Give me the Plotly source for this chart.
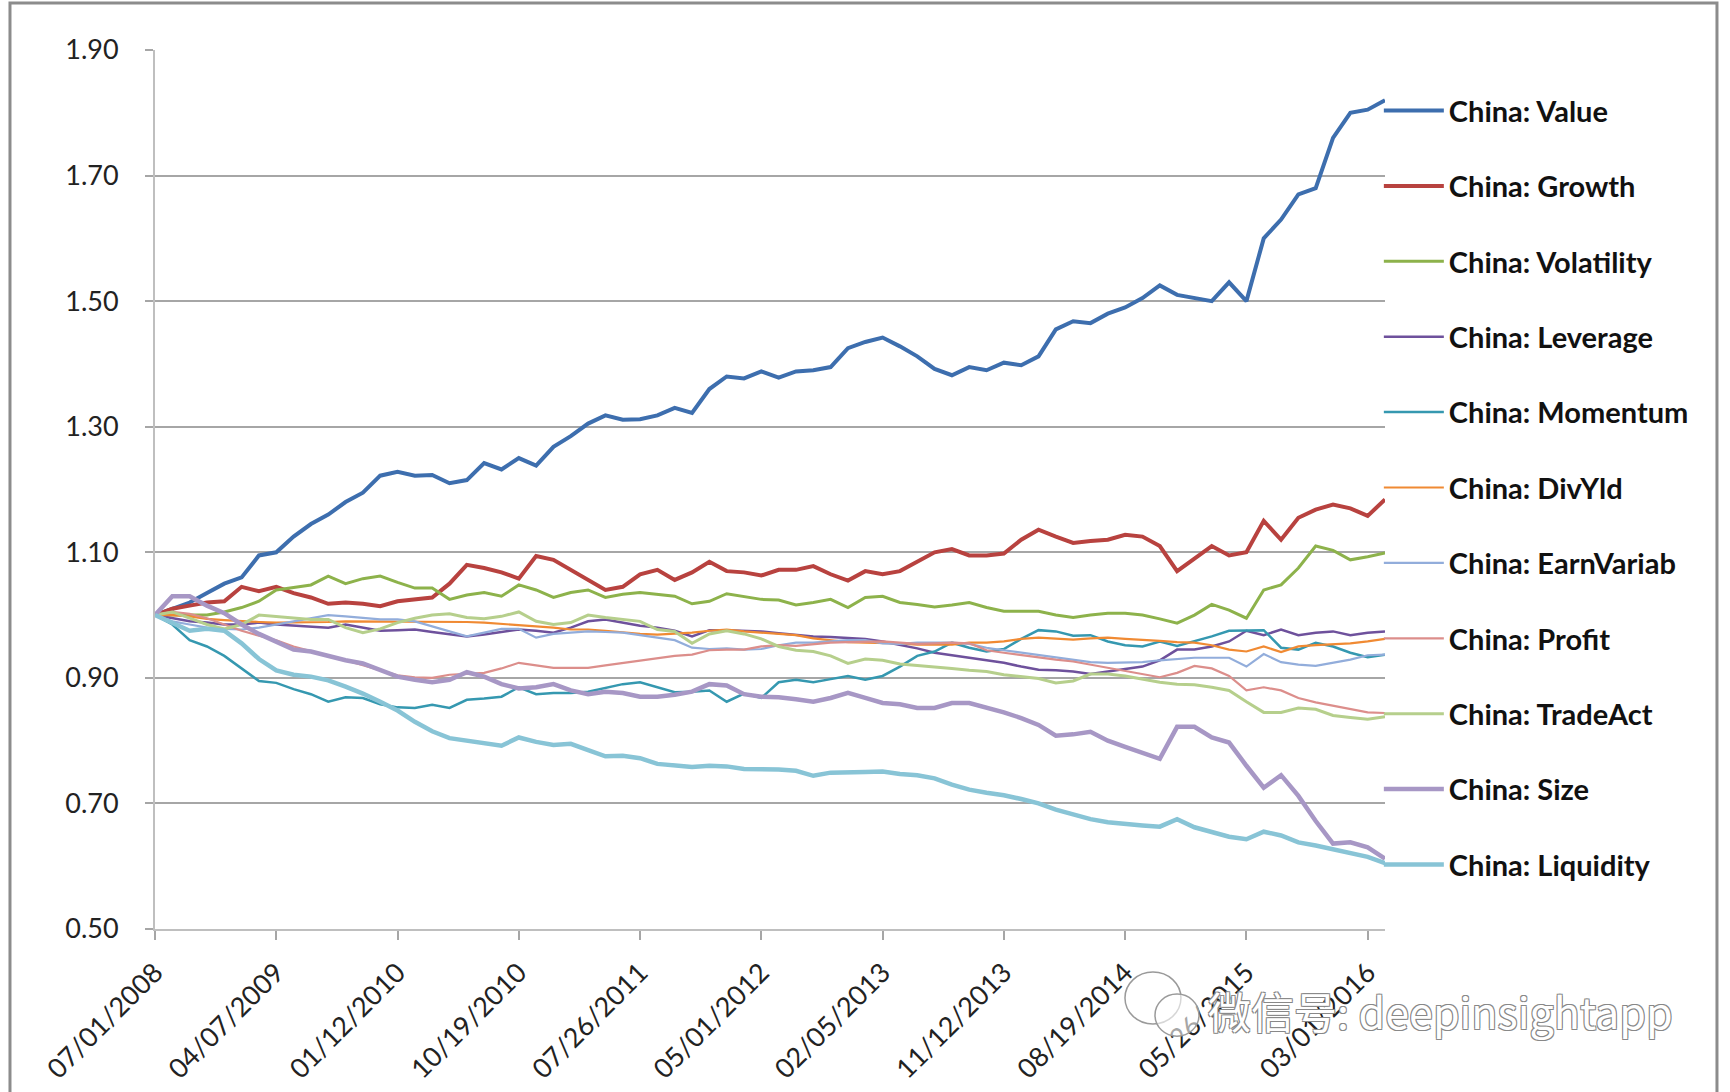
import plotly.graph_objects as go

# Sample dates (every 40 days from 07/01/2008)
dates = [
    "2008-07-01", "2008-08-10", "2008-09-19", "2008-10-29", "2008-12-08", "2009-01-17", "2009-02-26", "2009-04-07",
    "2009-05-17", "2009-06-26", "2009-08-05", "2009-09-14", "2009-10-24", "2009-12-03", "2010-01-12", "2010-02-21",
    "2010-04-02", "2010-05-12", "2010-06-21", "2010-07-31", "2010-09-09", "2010-10-19", "2010-11-28", "2011-01-07",
    "2011-02-16", "2011-03-28", "2011-05-07", "2011-06-16", "2011-07-26", "2011-09-04", "2011-10-14", "2011-11-23",
    "2012-01-02", "2012-02-11", "2012-03-22", "2012-05-01", "2012-06-10", "2012-07-20", "2012-08-29", "2012-10-08",
    "2012-11-17", "2012-12-27", "2013-02-05", "2013-03-17", "2013-04-26", "2013-06-05", "2013-07-15", "2013-08-24",
    "2013-10-03", "2013-11-12", "2013-12-22", "2014-01-31", "2014-03-12", "2014-04-21", "2014-05-31", "2014-07-10",
    "2014-08-19", "2014-09-28", "2014-11-07", "2014-12-17", "2015-01-26", "2015-03-07", "2015-04-16", "2015-05-26",
    "2015-07-05", "2015-08-14", "2015-09-23", "2015-11-02", "2015-12-12", "2016-01-21", "2016-03-01", "2016-04-10",
]

value = [1.000, 1.010, 1.020, 1.035, 1.050, 1.060, 1.095, 1.100, 1.125, 1.145, 1.160, 1.180, 1.195, 1.222, 1.228, 1.222,
         1.223, 1.210, 1.215, 1.242, 1.232, 1.250, 1.238, 1.268, 1.285, 1.305, 1.318, 1.311, 1.312, 1.318, 1.330, 1.322,
         1.360, 1.380, 1.377, 1.388, 1.378, 1.388, 1.390, 1.395, 1.425, 1.435, 1.442, 1.428, 1.412, 1.392, 1.382, 1.395,
         1.390, 1.402, 1.398, 1.412, 1.455, 1.468, 1.465, 1.480, 1.490, 1.505, 1.525, 1.510, 1.505, 1.500, 1.530, 1.500,
         1.600, 1.630, 1.670, 1.680, 1.760, 1.800, 1.805, 1.820]
growth = [1.000, 1.010, 1.015, 1.020, 1.022, 1.045, 1.038, 1.045, 1.035, 1.028, 1.018, 1.020, 1.018, 1.014, 1.022, 1.025,
          1.028, 1.050, 1.080, 1.075, 1.068, 1.058, 1.094, 1.088, 1.072, 1.055, 1.040, 1.045, 1.065, 1.072, 1.056, 1.068,
          1.085, 1.070, 1.068, 1.063, 1.072, 1.072, 1.078, 1.065, 1.055, 1.070, 1.065, 1.070, 1.085, 1.100, 1.105, 1.095,
          1.095, 1.098, 1.120, 1.136, 1.125, 1.115, 1.118, 1.120, 1.128, 1.125, 1.110, 1.070, 1.090, 1.110, 1.095, 1.100,
          1.150, 1.120, 1.155, 1.168, 1.176, 1.170, 1.158, 1.184]
volatility = [1.000, 1.000, 1.000, 1.000, 1.005, 1.012, 1.022, 1.040, 1.044, 1.048, 1.062, 1.050, 1.058, 1.062, 1.052, 1.043,
              1.043, 1.025, 1.032, 1.036, 1.030, 1.048, 1.040, 1.028, 1.036, 1.040, 1.028, 1.033, 1.036, 1.033, 1.030, 1.018,
              1.022, 1.034, 1.030, 1.025, 1.024, 1.016, 1.020, 1.025, 1.012, 1.028, 1.030, 1.020, 1.017, 1.013, 1.016, 1.020,
              1.012, 1.006, 1.006, 1.006, 1.000, 0.996, 1.000, 1.003, 1.003, 1.000, 0.994, 0.987, 1.000, 1.017, 1.008, 0.995,
              1.040, 1.048, 1.075, 1.110, 1.103, 1.088, 1.093, 1.099]
leverage = [1.000, 0.995, 0.990, 0.988, 0.985, 0.985, 0.988, 0.985, 0.983, 0.982, 0.980, 0.985, 0.980, 0.975, 0.976, 0.977,
            0.973, 0.970, 0.966, 0.969, 0.973, 0.977, 0.975, 0.972, 0.980, 0.990, 0.993, 0.988, 0.983, 0.980, 0.975, 0.966,
            0.976, 0.976, 0.975, 0.974, 0.971, 0.968, 0.966, 0.965, 0.964, 0.962, 0.958, 0.953, 0.947, 0.940, 0.936, 0.932,
            0.928, 0.924, 0.918, 0.913, 0.912, 0.910, 0.906, 0.910, 0.914, 0.918, 0.928, 0.945, 0.945, 0.950, 0.958, 0.975,
            0.968, 0.977, 0.968, 0.972, 0.974, 0.968, 0.972, 0.974]
momentum = [1.000, 0.985, 0.960, 0.950, 0.935, 0.915, 0.895, 0.892, 0.882, 0.874, 0.862, 0.869, 0.868, 0.858, 0.853, 0.852,
            0.857, 0.852, 0.865, 0.867, 0.870, 0.885, 0.874, 0.876, 0.876, 0.878, 0.884, 0.890, 0.893, 0.885, 0.877, 0.878,
            0.880, 0.862, 0.875, 0.868, 0.893, 0.897, 0.893, 0.898, 0.903, 0.897, 0.903, 0.918, 0.935, 0.942, 0.956, 0.948,
            0.942, 0.946, 0.962, 0.976, 0.974, 0.967, 0.968, 0.958, 0.952, 0.950, 0.958, 0.951, 0.958, 0.966, 0.975, 0.975,
            0.976, 0.948, 0.945, 0.956, 0.950, 0.940, 0.933, 0.937]
divyld = [1.000, 1.000, 0.998, 0.994, 0.992, 0.990, 0.989, 0.988, 0.988, 0.988, 0.989, 0.990, 0.990, 0.990, 0.990, 0.990,
          0.990, 0.990, 0.989, 0.988, 0.986, 0.985, 0.983, 0.980, 0.977, 0.977, 0.975, 0.972, 0.970, 0.969, 0.970, 0.972,
          0.975, 0.977, 0.974, 0.972, 0.970, 0.968, 0.963, 0.960, 0.957, 0.956, 0.956, 0.955, 0.953, 0.953, 0.953, 0.956,
          0.956, 0.958, 0.962, 0.964, 0.962, 0.961, 0.963, 0.964, 0.962, 0.961, 0.959, 0.957, 0.956, 0.952, 0.945, 0.942,
          0.950, 0.941, 0.950, 0.952, 0.953, 0.955, 0.958, 0.962]
earnvariab = [1.000, 0.990, 0.985, 0.980, 0.978, 0.977, 0.980, 0.985, 0.990, 0.995, 1.000, 0.998, 0.995, 0.993, 0.993, 0.990,
              0.982, 0.974, 0.966, 0.972, 0.978, 0.978, 0.964, 0.970, 0.972, 0.974, 0.973, 0.972, 0.968, 0.964, 0.960, 0.948,
              0.946, 0.947, 0.945, 0.946, 0.952, 0.956, 0.956, 0.958, 0.960, 0.960, 0.955, 0.954, 0.956, 0.956, 0.956, 0.954,
              0.948, 0.944, 0.940, 0.936, 0.932, 0.928, 0.925, 0.924, 0.924, 0.925, 0.928, 0.930, 0.932, 0.932, 0.932, 0.918,
              0.938, 0.925, 0.921, 0.919, 0.924, 0.929, 0.936, 0.937]
profit = [1.000, 1.005, 1.002, 0.995, 0.985, 0.975, 0.967, 0.960, 0.950, 0.943, 0.936, 0.928, 0.920, 0.912, 0.904, 0.901,
          0.900, 0.905, 0.906, 0.908, 0.915, 0.924, 0.920, 0.916, 0.916, 0.916, 0.920, 0.924, 0.928, 0.932, 0.935, 0.937,
          0.944, 0.945, 0.945, 0.950, 0.952, 0.951, 0.954, 0.956, 0.957, 0.958, 0.958, 0.956, 0.954, 0.955, 0.956, 0.955,
          0.944, 0.940, 0.936, 0.932, 0.929, 0.926, 0.921, 0.916, 0.912, 0.907, 0.901, 0.908, 0.919, 0.915, 0.903, 0.880,
          0.885, 0.880, 0.868, 0.861, 0.856, 0.850, 0.845, 0.844]
tradeact = [1.000, 1.005, 0.995, 0.985, 0.978, 0.985, 1.000, 0.998, 0.995, 0.993, 0.993, 0.980, 0.972, 0.978, 0.988, 0.995,
            1.000, 1.002, 0.996, 0.994, 0.998, 1.005, 0.990, 0.985, 0.988, 1.000, 0.996, 0.993, 0.990, 0.977, 0.974, 0.955,
            0.970, 0.975, 0.970, 0.962, 0.950, 0.944, 0.942, 0.935, 0.923, 0.930, 0.928, 0.922, 0.920, 0.917, 0.915, 0.912,
            0.910, 0.905, 0.902, 0.899, 0.892, 0.895, 0.906, 0.906, 0.903, 0.898, 0.893, 0.890, 0.889, 0.885, 0.880, 0.862,
            0.845, 0.845, 0.852, 0.850, 0.840, 0.837, 0.834, 0.838]
size = [1.000, 1.030, 1.030, 1.015, 1.003, 0.985, 0.970, 0.958, 0.945, 0.942, 0.935, 0.928, 0.923, 0.913, 0.902, 0.897,
        0.893, 0.897, 0.909, 0.902, 0.890, 0.883, 0.885, 0.890, 0.880, 0.874, 0.878, 0.876, 0.870, 0.870, 0.873, 0.878,
        0.890, 0.888, 0.874, 0.870, 0.869, 0.866, 0.862, 0.868, 0.876, 0.868, 0.860, 0.858, 0.852, 0.852, 0.860, 0.860,
        0.853, 0.845, 0.836, 0.825, 0.808, 0.810, 0.814, 0.800, 0.790, 0.780, 0.771, 0.822, 0.822, 0.805, 0.797, 0.760,
        0.725, 0.745, 0.712, 0.672, 0.636, 0.638, 0.630, 0.612]
liquidity = [1.000, 0.988, 0.975, 0.978, 0.975, 0.955, 0.930, 0.912, 0.905, 0.902, 0.896, 0.886, 0.875, 0.862, 0.848, 0.830,
             0.815, 0.804, 0.800, 0.795, 0.792, 0.805, 0.798, 0.793, 0.795, 0.785, 0.775, 0.776, 0.772, 0.763, 0.760, 0.758,
             0.760, 0.759, 0.755, 0.755, 0.754, 0.752, 0.744, 0.749, 0.749, 0.750, 0.751, 0.747, 0.745, 0.740, 0.730, 0.722,
             0.717, 0.713, 0.707, 0.700, 0.690, 0.682, 0.675, 0.670, 0.667, 0.665, 0.663, 0.675, 0.662, 0.655, 0.647, 0.643,
             0.655, 0.649, 0.638, 0.633, 0.627, 0.622, 0.615, 0.605]

series_names = ["China: Value", "China: Growth", "China: Volatility", "China: Leverage", "China: Momentum",
                "China: DivYld", "China: EarnVariab", "China: Profit", "China: TradeAct", "China: Size",
                "China: Liquidity"]
series_values = [value, growth, volatility, leverage, momentum, divyld, earnvariab, profit, tradeact, size, liquidity]
series_colors = ["#3D6EAE", "#B8423F", "#8DB24B", "#6E519C", "#3598B0", "#F08A33", "#92ADDB", "#DC8E8B",
                 "#B6CF8C", "#A797C5", "#88C4D6"]
series_widths = [4.0, 4.0, 3.0, 2.5, 2.5, 2.2, 2.2, 2.2, 3.0, 4.5, 4.5]

y_tick_values = [0.50, 0.70, 0.90, 1.10, 1.30, 1.50, 1.70, 1.90]

fig = go.Figure()
for name, vals, col, w in zip(series_names, series_values, series_colors, series_widths):
    fig.add_trace(go.Scatter(
        x=dates, y=vals, mode="lines", name=name, legendgroup=name,
        line=dict(color=col, width=w),
    ))

fig.update_layout(
    width=1730, height=1092,
    margin=dict(l=155, r=345, t=50, b=163),
    paper_bgcolor="white", plot_bgcolor="white",
    font=dict(family="Lato", size=26, color="#222222"),
    showlegend=True,
    legend=dict(
        x=0.995, xanchor="left", y=0.96, yanchor="top",
        font=dict(family="Lato", size=29, color="#111111", weight="bold"),
        tracegroupgap=34.7, itemwidth=60,
        bgcolor="rgba(0,0,0,0)", borderwidth=0,
    ),
    xaxis=dict(
        type="date", automargin=False,
        range=["2008-07-01", "2016-04-10"],
        tick0="2008-07-01", dtick=280 * 86400000,
        tickformat="%m/%d/%Y", tickangle=-45,
        ticks="outside", ticklen=9, tickcolor="#A6A6A6", tickwidth=2,
        showline=True, linecolor="#BFBFBF", linewidth=2,
        showgrid=False, zeroline=False,
        tickfont=dict(family="Lato", size=27, color="#222222"),
        ticklabelstandoff=6,
    ),
    yaxis=dict(
        automargin=False,
        range=[0.5, 1.9], tickvals=y_tick_values, tickformat=".2f",
        ticks="outside", ticklen=8, tickcolor="#A6A6A6", tickwidth=2,
        showgrid=True, gridcolor="#A6A6A6", gridwidth=1.6,
        showline=True, linecolor="#BFBFBF", linewidth=2,
        zeroline=False,
        tickfont=dict(family="Lato", size=27, color="#222222"),
        ticklabelstandoff=21,
    ),
    shapes=[
        dict(type="rect", xref="paper", yref="paper",
             x0=-0.1179, x1=1.2699, y0=-0.2, y1=1.0535,
             line=dict(color="#8C8C8C", width=3), fillcolor="rgba(0,0,0,0)", layer="below"),
        # watermark icon (two speech bubbles)
        dict(type="circle", xref="paper", yref="paper",
             x0=0.7886, x1=0.8341, y0=-0.108, y1=-0.049,
             line=dict(color="#9A9A9A", width=1.5), fillcolor="rgba(255,255,255,0.6)", layer="above"),
        dict(type="circle", xref="paper", yref="paper",
             x0=0.8130, x1=0.8488, y0=-0.122, y1=-0.074,
             line=dict(color="#9A9A9A", width=1.5), fillcolor="rgba(255,255,255,0.6)", layer="above"),
    ],
    annotations=[dict(
        text="微信号: deepinsightapp", xref="paper", yref="paper",
        x=1.045, y=-0.092, xanchor="center", yanchor="middle", showarrow=False,
        font=dict(family="Noto Sans CJK SC", size=43, color="white",
                  shadow="1px 1px 0 #888, -1px -1px 0 #888, 1px -1px 0 #888, -1px 1px 0 #888"),
    )],
)

fig.write_html(
    "out.html",
    config={"displayModeBar": False},
    post_script="document.body.style.margin='0';document.body.style.padding='0';document.body.style.overflow='hidden';",
)
